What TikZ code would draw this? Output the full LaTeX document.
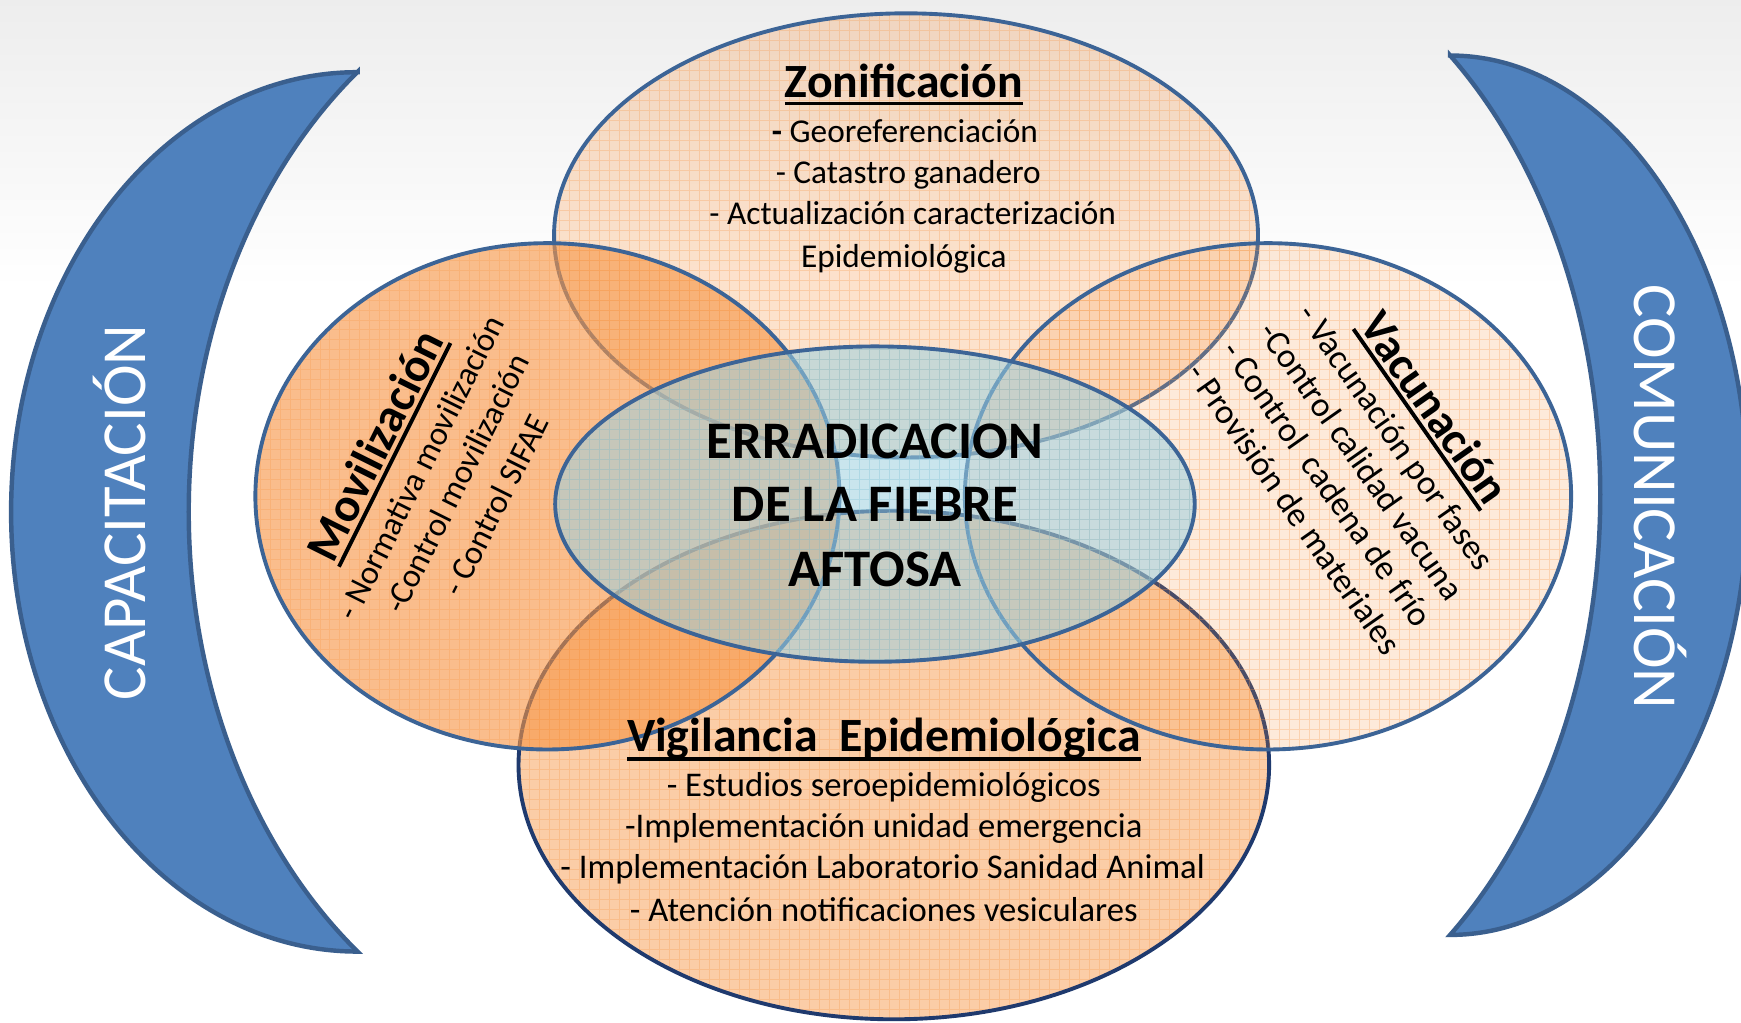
\documentclass[tikz,border=0pt]{standalone}
\usepackage{fontspec}
\setmainfont{Carlito}
\definecolor{orgA}{HTML}{F79646}
\definecolor{blueF}{HTML}{4F81BD}
\definecolor{blueS}{HTML}{3A5F8E}
\definecolor{edgeC}{HTML}{3C6496}
\definecolor{navyC}{HTML}{1F3A6E}
\definecolor{cenC}{HTML}{9DD0E0}
\definecolor{cenG}{HTML}{7FC0D6}
\newsavebox\ulsave
\newcommand\myul[2]{\sbox\ulsave{#2}\rlap{\rule[-#1]{\wd\ulsave}{3.5pt}}\usebox\ulsave}
\newcommand\mytitlefont{\fontsize{43}{50}\selectfont\bfseries}
\newcommand\mybodyfont{\fontsize{30}{37}\selectfont}
\newcommand\mybigbodyfont{\fontsize{31.2}{37}\selectfont}
\tikzset{
  edgeline/.style={draw=edgeC, line width=3.5pt},
  gridl/.style={draw=orgA, line width=0.5pt, opacity=0.28},
  gridc/.style={draw=cenG, line width=0.5pt, opacity=0.35},
  crescent/.style={fill=blueF, draw=blueS, line width=4pt},
  bandtext/.style={text=white, inner sep=0pt, font=\fontsize{56.5}{57}\selectfont},
  tline/.style={anchor=base, inner sep=0pt, font=\mybodyfont},
  bline/.style={anchor=base, inner sep=0pt, font=\mybigbodyfont},
}
\begin{document}
\begin{tikzpicture}[x=1pt, y=1pt, every node/.style={inner sep=0pt, outer sep=0pt}]
\useasboundingbox (0,0) rectangle (1568,-921);
\clip (0,0) rectangle (1568,-921);
% background
\fill[white] (0,0) rectangle (1568,-921);
\shade[top color=black!7, bottom color=white] (0,0) rectangle (1568,-260);

% crescents
\filldraw[crescent] (322,-65) arc[start angle=90, end angle=270, x radius=312, y radius=396]
   arc[start angle=232.4, end angle=127.6, x radius=390, y radius=500] -- cycle;
\filldraw[crescent] (1306,-50) arc[start angle=90, end angle=-90, x radius=268, y radius=396]
   arc[start angle=-50.4, end angle=50.4, x radius=373, y radius=514] -- cycle;
\node[bandtext, rotate=90, anchor=base] (capa) at (130.6,-461.6) {CAPACITACIÓN};
\node[bandtext, rotate=-90, anchor=base] (comu) at (1472.4,-447.4) {COMUNICACIÓN};

% top ellipse
\begin{scope}
  \clip (816,-212) ellipse [x radius=317, y radius=200];
  \fill[orgA, fill opacity=0.27] (816,-212) ellipse [x radius=317, y radius=200];
  \draw[gridl] (495,-415) grid[step=9pt] (1135,-9);
\end{scope}
\draw[edgeline] (816,-212) ellipse [x radius=317, y radius=200];

% bottom ellipse
\begin{scope}
  \clip (805,-689) ellipse [x radius=338, y radius=229];
  \fill[orgA, fill opacity=0.47] (805,-689) ellipse [x radius=338, y radius=229];
  \draw[gridl] (463,-921) grid[step=9pt] (1145,-458);
\end{scope}
\draw[edgeline, draw=navyC] (805,-689) ellipse [x radius=338, y radius=229];

% left ellipse
\begin{scope}
  \clip (493,-447) ellipse [x radius=263, y radius=228];
  \fill[orgA, fill opacity=0.62] (493,-447) ellipse [x radius=263, y radius=228];
  \draw[gridl] (228,-677) grid[step=9pt] (758,-217);
\end{scope}
\draw[edgeline] (493,-447) ellipse [x radius=263, y radius=228];

% right ellipse
\begin{scope}
  \clip (1142,-447) ellipse [x radius=273, y radius=228];
  \fill[orgA, fill opacity=0.2] (1142,-447) ellipse [x radius=273, y radius=228];
  \draw[gridl] (866,-677) grid[step=9pt] (1418,-217);
\end{scope}
\draw[edgeline] (1142,-447) ellipse [x radius=273, y radius=228];

% center ellipse
\begin{scope}
  \clip (788,-454) ellipse [x radius=288, y radius=142];
  \fill[cenC, fill opacity=0.55] (788,-454) ellipse [x radius=288, y radius=142];
  \draw[gridc] (497,-598) grid[step=9pt] (1079,-310);
\end{scope}
\draw[edgeline] (788,-454) ellipse [x radius=288, y radius=142];

% Zonificacion
\node[anchor=base] (zt) at (814,-88) {\mytitlefont\myul{7pt}{Zonificación}};
\node[tline] (z1) at (815,-128.5) {\textbf{-} Georeferenciación};
\node[tline] (z2) at (818,-165.5) {- Catastro ganadero};
\node[tline] (z3) at (822,-202.5) {- Actualización caracterización};
\node[tline] (z4) at (814,-240.5) {Epidemiológica};

% centre
\node[anchor=base] (e1) at (788,-413) {\fontsize{47.5}{57}\selectfont\bfseries ERRADICACION};
\node[anchor=base] (e2) at (788,-470) {\fontsize{47.5}{57}\selectfont\bfseries DE LA FIEBRE};
\node[anchor=base] (e3) at (788,-528) {\fontsize{47.5}{57}\selectfont\bfseries AFTOSA};

% Vigilancia
\node[anchor=base] (vt) at (796,-677) {\mytitlefont\myul{8pt}{Vigilancia\ \ Epidemiológica}};
\node[bline] (v1) at (796,-717.5) {- Estudios seroepidemiológicos};
\node[bline] (v2) at (796,-754.5) {-Implementación unidad emergencia};
\node[bline] (v3) at (795,-791.5) {- Implementación Laboratorio Sanidad Animal};
\node[bline] (v4) at (796,-829.5) {- Atención notificaciones vesiculares};

% Movilizacion
\begin{scope}[shift={(350.8,-407.3)}, rotate=63.5, transform shape]
  \node[anchor=base] (mt) at (0,0) {\mytitlefont\myul{7pt}{Movilización}};
  \node[tline] (m1) at (0,-41) {- Normativa movilización};
  \node[tline] (m2) at (2,-77) {-Control movilización};
  \node[tline] (m3) at (0,-117) {- Control SIFAE};
\end{scope}

% Vacunacion
\begin{scope}[shift={(1280.5,-375.1)}, rotate=-55, transform shape]
  \node[anchor=base] (ct) at (0,0) {\fontsize{42}{50}\selectfont\bfseries\myul{7pt}{Vacunación}};
  \node[bline] (c1) at (2,-40) {- Vacunación por fases};
  \node[bline] (c2) at (2,-77.7) {-Control calidad vacuna};
  \node[bline] (c3) at (1,-114.8) {- Control\ \ cadena de frío};
  \node[bline] (c4) at (2,-152.3) {- Provisión de materiales};
\end{scope}
\end{tikzpicture}
\end{document}
